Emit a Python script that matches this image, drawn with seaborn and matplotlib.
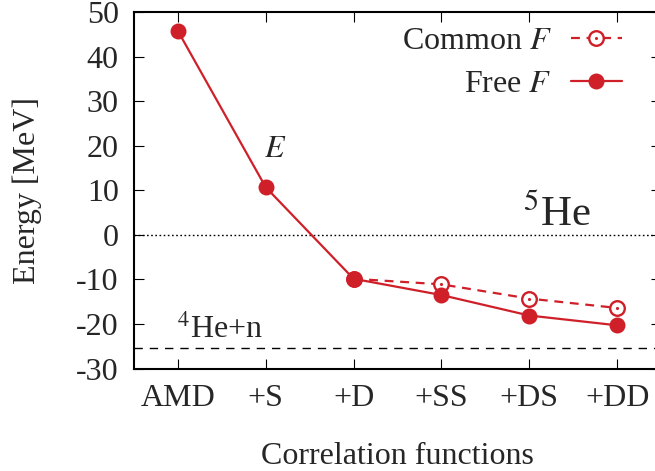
import matplotlib
matplotlib.use("Agg")
import matplotlib.pyplot as plt
import seaborn as sns
import pandas as pd
from matplotlib.legend_handler import HandlerTuple
from matplotlib.lines import Line2D

# ---- data ----
categories = ["AMD", "+S", "+D", "+SS", "+DS", "+DD"]
free_F = [45.8, 10.7, -9.85, -13.5, -18.1, -20.3]
common_cats = ["+D", "+SS", "+DS", "+DD"]
common_F = [-9.85, -11.1, -14.3, -16.4]
threshold = -25.4
yticks = [-30, -20, -10, 0, 10, 20, 30, 40, 50]

RED = "#cf2029"

sns.set_theme(style="ticks")
plt.rcParams["font.family"] = ["Liberation Serif", "DejaVu Serif"]
plt.rcParams["mathtext.fontset"] = "stix"
plt.rcParams["axes.unicode_minus"] = False

FS = 23

fig = plt.figure(figsize=(6.55, 4.71), dpi=100)
ax = fig.add_axes([134/655, 1-368.5/471, 527/655, 356.2/471])

idx = {c: i for i, c in enumerate(categories)}
df_free = pd.DataFrame({"x": [idx[c] for c in categories], "y": free_F})
df_com = pd.DataFrame({"x": [idx[c] for c in common_cats], "y": common_F})

ax.axhline(0, color="black", lw=1.0, dashes=(1.2, 1.8), zorder=1)
ax.axhline(threshold, color="black", lw=1.0, dashes=(6, 5), zorder=1)

sns.lineplot(data=df_com, x="x", y="y", ax=ax, color=RED, lw=1.6, sort=False,
             marker="o", markersize=10.5, markerfacecolor="white",
             markeredgecolor=RED, markeredgewidth=1.7, zorder=3)
ax.lines[-1].set_dashes((4, 3))
sns.scatterplot(data=df_com, x="x", y="y", ax=ax, color=RED, s=5,
                linewidth=0, zorder=4)
sns.lineplot(data=df_free, x="x", y="y", ax=ax, color=RED, lw=1.6, sort=False,
             marker="o", markersize=11.5, markeredgewidth=0, zorder=5)

ax.set_xlim(-0.5, 5.5)
ax.set_ylim(-30, 50)
ax.set_xticks(range(len(categories)))
ax.set_xticklabels(categories)
ax.set_yticks(yticks)
ax.tick_params(axis="both", which="both", direction="in", length=7.2, width=0.8,
               labelsize=FS, top=True, right=True, pad=11, color="black")
for s in ax.spines.values():
    s.set_linewidth(1.5)
    s.set_color("black")

ax.set_xlabel("Correlation functions", fontsize=FS)
ax.set_ylabel("Energy [MeV]", fontsize=FS)
ax.xaxis.set_label_coords(0.5, -0.205)
ax.yaxis.set_label_coords(-0.175, 0.5)

ax.text(1.11, 17.4, "$E$", fontsize=FS, ha="center", va="baseline")
ax.text(3.93, 2.1, "$^{5}$He", fontsize=31, ha="left", va="baseline")
ax.text(-0.01, -23.1, "$^{4}$He+n", fontsize=FS, ha="left", va="baseline")

h_com = Line2D([], [], color=RED, lw=1.6, dashes=(4, 3), marker="o",
               markersize=10.5, markerfacecolor="white", markeredgecolor=RED,
               markeredgewidth=1.7)
h_dot = Line2D([], [], color=RED, ls="none", marker="o", markersize=2.2,
               markeredgewidth=0)
h_free = Line2D([], [], color=RED, lw=1.6, marker="o", markersize=11.5,
                markeredgewidth=0)
ax.legend([(h_com, h_dot), h_free], ["Common $F$", "Free $F$"],
          handler_map={tuple: HandlerTuple(ndivide=1)},
          loc="upper right", bbox_to_anchor=(0.926, 0.96), frameon=False,
          markerfirst=False, fontsize=FS, handlelength=1.6, handletextpad=0.6,
          labelspacing=0.42, borderaxespad=0, borderpad=0, numpoints=1)

fig.savefig("out.png", dpi=100)
